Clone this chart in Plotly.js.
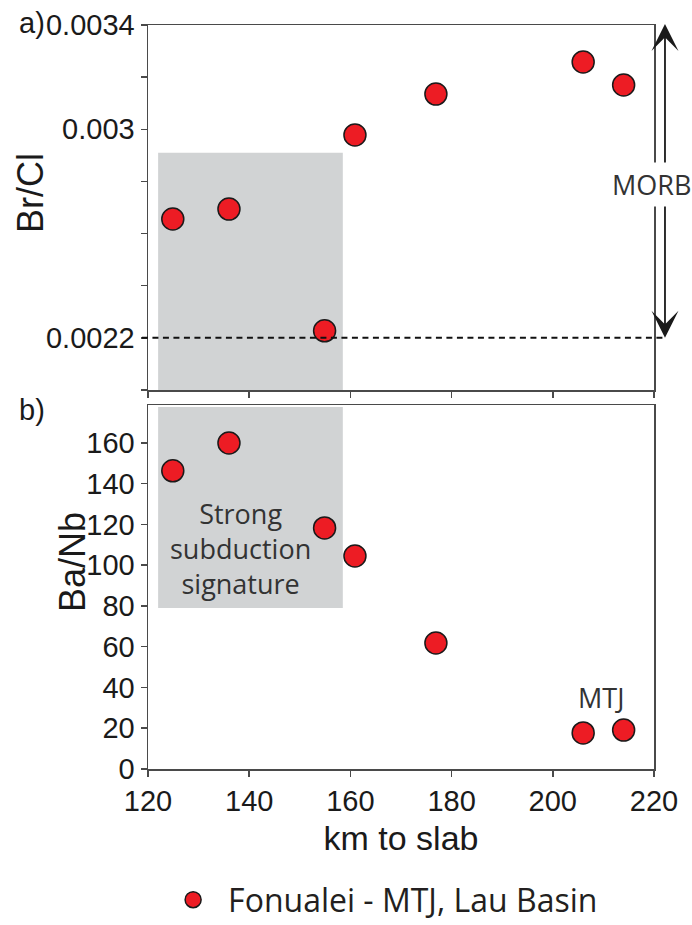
<!DOCTYPE html>
<html>
<head>
<meta charset="utf-8">
<script src="https://cdn.plot.ly/plotly-3.0.1.min.js"></script>
<style>html,body{margin:0;padding:0;background:#fff;}#chart{width:692px;height:925px;}</style>
</head>
<body>
<div id="chart"></div>
<script>
// Distance to slab (km) for each sample
const kmToSlab = [124.9, 136.0, 154.9, 160.9, 176.9, 206.0, 214.0];
// Panel a: Br/Cl
const brCl = [0.002656, 0.002694, 0.002227, 0.002978, 0.003135, 0.003258, 0.003170];
// Panel b: Ba/Nb
const baNb = [146.3, 160.0, 118.3, 104.5, 61.8, 17.7, 19.1];

const seriesName = 'Fonualei - MTJ, Lau Basin';
const xTicks = [120, 140, 160, 180, 200, 220];
const xTickText = ['120', '140', '160', '180', '200', '220'];
const brClTicks = [0.0020, 0.0022, 0.0024, 0.0026, 0.0028, 0.0030, 0.0032, 0.0034];
const brClTickText = ['', '0.0022', '', '', '', '0.003', '', '0.0034'];
const baNbTicks = [0, 20, 40, 60, 80, 100, 120, 140, 160];
const baNbTickText = ['0', '20', '40', '60', '80', '100', '120', '140', '160'];

// Reference values
const morbLow = 0.0022;
const morbHigh = 0.00341;
const subductionKm = [122.0, 158.5];
const subductionBrCl = [0.0020, 0.00291];
const subductionBaNb = [79, 177.6];

const axisColor = '#4a4a4a';
const tickFont = {family: '"Liberation Sans", Arial, sans-serif', size: 29, color: '#1a1a1a'};
const labelFont = {family: '"Open Sans", sans-serif', size: 27, color: '#333333'};

const marker = {color: '#ed1c24', size: 22, line: {color: '#1a1a1a', width: 1.5}};

const traces = [
  {x: kmToSlab, y: brCl, xaxis: 'x2', yaxis: 'y2', mode: 'markers', type: 'scatter',
   name: seriesName, marker: marker, showlegend: false, cliponaxis: false},
  {x: kmToSlab, y: baNb, xaxis: 'x', yaxis: 'y', mode: 'markers', type: 'scatter',
   name: seriesName, marker: marker, showlegend: true, cliponaxis: false}
];

const axBase = {
  showline: true, linecolor: axisColor, linewidth: 1.5, mirror: true,
  showgrid: false, zeroline: false, ticks: 'outside', ticklen: 6, tickwidth: 1.5,
  tickcolor: axisColor, tickfont: tickFont
};

const layout = {
  width: 692, height: 925,
  margin: {l: 148, r: 38, t: 25, b: 156, autoexpand: false},
  paper_bgcolor: '#ffffff', plot_bgcolor: '#ffffff',
  showlegend: true,
  legend: {
    orientation: 'h', x: 0.02, xanchor: 'left', y: -0.176, yanchor: 'middle',
    font: {family: '"Open Sans", sans-serif', size: 32, color: '#231f20'},
    itemwidth: 60, bgcolor: 'rgba(0,0,0,0)'
  },
  xaxis: Object.assign({}, axBase, {
    anchor: 'y', range: [120, 220], tickmode: 'array', tickvals: xTicks, ticktext: xTickText,
    title: {text: 'km to slab', font: {family: '"Liberation Sans", Arial, sans-serif', size: 34, color: '#1a1a1a'}, standoff: 10}
  }),
  yaxis: Object.assign({}, axBase, {
    anchor: 'x', domain: [0, 0.4892], range: [0, 178.6],
    tickmode: 'array', tickvals: baNbTicks, ticktext: baNbTickText
  }),
  xaxis2: Object.assign({}, axBase, {
    anchor: 'y2', matches: 'x', range: [120, 220], tickmode: 'array', tickvals: xTicks,
    showticklabels: false
  }),
  yaxis2: Object.assign({}, axBase, {
    anchor: 'x2', domain: [0.5094, 1], range: [0.0020, 0.0034],
    tickmode: 'array', tickvals: brClTicks, ticktext: brClTickText
  }),
  shapes: [
    {type: 'rect', xref: 'x2', yref: 'y2', x0: subductionKm[0], x1: subductionKm[1],
     y0: subductionBrCl[0], y1: subductionBrCl[1], fillcolor: '#d1d3d4', line: {width: 0}, layer: 'below'},
    {type: 'rect', xref: 'x', yref: 'y', x0: subductionKm[0], x1: subductionKm[1],
     y0: subductionBaNb[0], y1: subductionBaNb[1], fillcolor: '#d1d3d4', line: {width: 0}, layer: 'below'},
    {type: 'line', xref: 'paper', yref: 'y2', x0: -0.012, x1: 1.0217, y0: morbLow, y1: morbLow,
     line: {color: '#111111', width: 2, dash: '6px,4.5px'}}
  ],
  annotations: [
    {xref: 'paper', yref: 'y2', x: 1.0217, y: morbLow, axref: 'pixel', ayref: 'y2', ax: 0, ay: morbHigh,
     text: '', showarrow: true, arrowside: 'end+start', arrowhead: 3, startarrowhead: 3,
     arrowsize: 2.5, startarrowsize: 2.5, arrowwidth: 1.8, arrowcolor: '#1a1a1a', standoff: 0, startstandoff: 0},
    {xref: 'paper', yref: 'y2', x: 0.996, y: 0.00279, xanchor: 'center', yanchor: 'middle', text: 'MORB', showarrow: false,
     font: labelFont, bgcolor: '#ffffff', borderpad: 3},
    {xref: 'x', yref: 'y', x: 138.2, y: 108, xanchor: 'center', yanchor: 'middle',
     text: 'Strong<br>subduction<br>signature', showarrow: false, font: labelFont},
    {xref: 'x', yref: 'y', x: 209.6, y: 35, xanchor: 'center', yanchor: 'middle', text: 'MTJ', showarrow: false, font: labelFont},
    {xref: 'paper', yref: 'paper', x: -0.2589, y: 1.0027, xanchor: 'left', yanchor: 'middle',
     text: 'a)', showarrow: false, font: tickFont},
    {xref: 'paper', yref: 'paper', x: -0.2589, y: 0.4825, xanchor: 'left', yanchor: 'middle',
     text: 'b)', showarrow: false, font: tickFont},
    {xref: 'paper', yref: 'paper', x: -0.2312, y: 0.7742, xanchor: 'center', yanchor: 'middle',
     text: 'Br/Cl', textangle: -90, showarrow: false,
     font: {family: '"Liberation Sans", Arial, sans-serif', size: 36, color: '#1a1a1a'}},
    {xref: 'paper', yref: 'paper', x: -0.1502, y: 0.2782, xanchor: 'center', yanchor: 'middle',
     text: 'Ba/Nb', textangle: -90, showarrow: false,
     font: {family: '"Liberation Sans", Arial, sans-serif', size: 36, color: '#1a1a1a'}}
  ]
};

Plotly.newPlot('chart', traces, layout, {staticPlot: true, displayModeBar: false});
</script>
</body>
</html>
